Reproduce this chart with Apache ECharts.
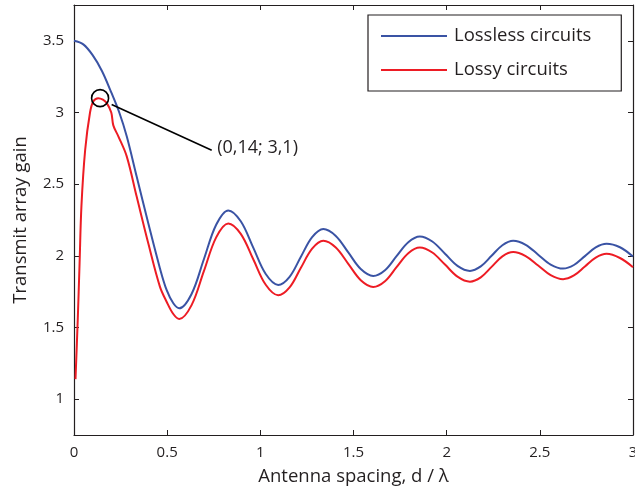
<!DOCTYPE html>
<html>
<head>
<meta charset="utf-8">
<script src="https://cdn.jsdelivr.net/npm/echarts@6/dist/echarts.min.js"></script>
<style>html,body{margin:0;padding:0;background:#fff;}#c{width:635px;height:490px;}</style>
</head>
<body>
<div id="c"></div>
<script>
// ---- data ----
const seriesNames = ['Lossless circuits', 'Lossy circuits'];
const xLossless = [0, 0.05, 0.10, 0.15, 0.20, 0.243, 0.283, 0.336, 0.40, 0.461, 0.497, 0.533, 0.565,
  0.631, 0.697, 0.763, 0.828, 0.895, 0.962, 1.029, 1.096, 1.157, 1.217, 1.278, 1.338, 1.405, 1.472, 1.539, 1.606,
  1.669, 1.731, 1.794, 1.856, 1.923, 1.991, 2.058, 2.125, 2.183, 2.241, 2.299, 2.357, 2.424, 2.491, 2.558, 2.625,
  2.683, 2.742, 2.800, 2.858, 2.93, 3.0];
const yLossless = [3.50, 3.475, 3.40, 3.29, 3.14, 3.00, 2.834, 2.555, 2.22, 1.914, 1.762, 1.669, 1.634,
  1.734, 1.976, 2.217, 2.317, 2.241, 2.057, 1.873, 1.797, 1.854, 1.992, 2.130, 2.187, 2.139, 2.024, 1.908, 1.860,
  1.900, 1.998, 2.095, 2.135, 2.100, 2.015, 1.930, 1.895, 1.926, 2.000, 2.074, 2.105, 2.077, 2.008, 1.939, 1.911,
  1.936, 1.998, 2.059, 2.084, 2.06, 1.995];
const xLossy = [0.008, 0.02, 0.03, 0.04, 0.06, 0.086, 0.104, 0.13, 0.155, 0.175, 0.20, 0.211, 0.238, 0.283, 0.336, 0.40, 0.461, 0.497, 0.533, 0.565,
  0.631, 0.697, 0.763, 0.828, 0.895, 0.962, 1.029, 1.096, 1.157, 1.217, 1.278, 1.338, 1.405, 1.472, 1.539, 1.606,
  1.669, 1.731, 1.794, 1.856, 1.923, 1.991, 2.058, 2.125, 2.183, 2.241, 2.299, 2.357, 2.424, 2.491, 2.558, 2.625,
  2.683, 2.742, 2.800, 2.858, 2.93, 3.0];
const yLossy = [1.14, 1.55, 1.95, 2.35, 2.74, 3.00, 3.079, 3.10, 3.09, 3.067, 3.00, 2.91, 2.834, 2.694, 2.415, 2.08, 1.785, 1.68, 1.594, 1.559,
  1.656, 1.893, 2.129, 2.226, 2.153, 1.976, 1.798, 1.725, 1.780, 1.915, 2.050, 2.105, 2.058, 1.944, 1.830, 1.783,
  1.823, 1.921, 2.018, 2.058, 2.023, 1.939, 1.855, 1.820, 1.850, 1.923, 1.996, 2.026, 1.998, 1.932, 1.865, 1.837,
  1.863, 1.926, 1.988, 2.014, 1.985, 1.921];
const yTicks = [1, 1.5, 2, 2.5, 3, 3.5];
const annotPoint = [0.14, 3.1];
const annotLineStart = [0.202, 3.056];
const annotLineEnd = [0.739, 2.736];
const annotText = '(0,14; 3,1)';
const xTitle = 'Antenna spacing, d / \u03bb';
const yTitle = 'Transmit array gain';

// ---- chart ----
const FONT = 'Open Sans';
const INK = '#231f20';
const BLUE = '#3a53a4';
const RED = '#ed1c24';
const pairs = (xs, ys) => xs.map((x, i) => [x, ys[i]]);
const axisCommon = {
  axisLine: { show: true, onZero: false, lineStyle: { color: INK, width: 1.2 } },
  axisTick: { show: true, inside: true, length: 5, lineStyle: { color: INK, width: 1 } },
  splitLine: { show: false }
};
const chart = echarts.init(document.getElementById('c'), null, { renderer: 'canvas' });
chart.setOption({
  animation: false,
  backgroundColor: '#fff',
  textStyle: { fontFamily: FONT, color: INK },
  grid: { left: 74, right: 2, top: 5, bottom: 55, containLabel: false, outerBoundsMode: 'none' },
  legend: {
    orient: 'vertical',
    left: 368, top: 15,
    padding: [11, 30, 11, 13],
    borderColor: INK, borderWidth: 1.2,
    backgroundColor: '#fff',
    icon: 'rect', itemWidth: 66, itemHeight: 2, itemGap: 14,
    textStyle: { fontFamily: FONT, fontSize: 18.5, color: INK, lineHeight: 20, padding: [0, 0, 0, 2] },
    data: seriesNames
  },
  xAxis: [
    Object.assign({}, axisCommon, {
      type: 'value', min: 0, max: 3, interval: 0.5, position: 'bottom',
      axisLabel: { color: INK, fontFamily: FONT, fontSize: 15, margin: 10 },
      name: xTitle, nameLocation: 'middle', nameGap: 32,
      nameTextStyle: { color: INK, fontFamily: FONT, fontSize: 18.5 }
    }),
    Object.assign({}, axisCommon, {
      type: 'value', min: 0, max: 3, interval: 0.5, position: 'top',
      axisLabel: { show: false }
    })
  ],
  yAxis: [
    Object.assign({}, axisCommon, {
      type: 'value', min: 0.75, max: 3.75, position: 'left',
      axisTick: Object.assign({}, axisCommon.axisTick, { customValues: yTicks }),
      axisLabel: { color: INK, fontFamily: FONT, fontSize: 15, margin: 10, customValues: yTicks },
      name: yTitle, nameLocation: 'middle', nameGap: 44,
      nameTextStyle: { color: INK, fontFamily: FONT, fontSize: 18.5 }
    }),
    Object.assign({}, axisCommon, {
      type: 'value', min: 0.75, max: 3.75, position: 'right',
      axisTick: Object.assign({}, axisCommon.axisTick, { customValues: yTicks }),
      axisLabel: { show: false }
    })
  ],
  series: [
    {
      name: seriesNames[0], type: 'line', data: pairs(xLossless, yLossless),
      symbol: 'none', smooth: 0.35,
      lineStyle: { color: BLUE, width: 2 }, itemStyle: { color: BLUE }
    },
    {
      name: seriesNames[1], type: 'line', data: pairs(xLossy, yLossy),
      symbol: 'none', smooth: 0.35,
      lineStyle: { color: RED, width: 2 }, itemStyle: { color: RED },
      markPoint: {
        silent: true,
        symbol: 'circle', symbolSize: 17,
        itemStyle: { color: 'rgba(0,0,0,0)', borderColor: '#000', borderWidth: 1.6 },
        label: { show: false },
        data: [{ coord: annotPoint }]
      },
      markLine: {
        silent: true,
        symbol: ['none', 'none'],
        lineStyle: { color: '#000', width: 1.6, type: 'solid' },
        label: { show: true, position: 'end', formatter: annotText, color: INK, fontFamily: FONT, fontSize: 18, distance: 6, offset: [0, -5] },
        data: [[{ coord: annotLineStart }, { coord: annotLineEnd }]]
      }
    }
  ]
});
</script>
</body>
</html>
